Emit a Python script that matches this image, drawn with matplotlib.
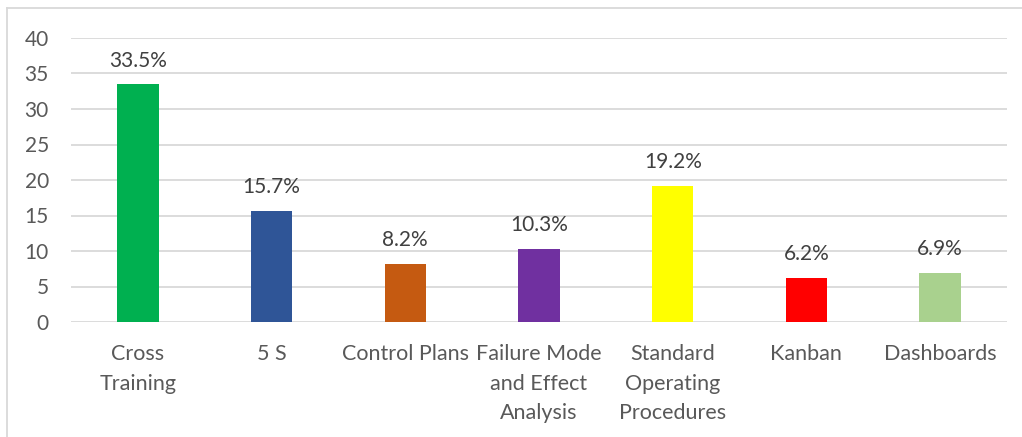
import matplotlib.pyplot as plt
from matplotlib.lines import Line2D


# ==========================
# Data
# ==========================
categories = [
    "Cross\nTraining",
    "5 S",
    "Control Plans",
    "Failure Mode\nand Effect\nAnalysis",
    "Standard\nOperating\nProcedures",
    "Kanban",
    "Dashboards",
]
values = [33.5, 15.7, 8.2, 10.3, 19.2, 6.2, 6.9]
value_labels = ["33.5%", "15.7%", "8.2%", "10.3%", "19.2%", "6.2%", "6.9%"]
bar_colors = ["#00B050", "#2F5597", "#C55A11", "#7030A0", "#FFFF00", "#FF0000", "#A9D18E"]
y_ticks = [0, 5, 10, 15, 20, 25, 30, 35, 40]


# ==========================
# Plot
# ==========================
W, H = 1022, 437
plt.rcParams["font.family"] = ["Lato", "DejaVu Sans"]

fig = plt.figure(figsize=(W / 100, H / 100), dpi=100)
ax = fig.add_axes([71 / W, 1 - 322 / H, (1007 - 71) / W, (322 - 38) / H])

x = range(len(categories))
ax.bar(x, values, width=0.31, color=bar_colors, zorder=3)

for i, (v, lab) in enumerate(zip(values, value_labels)):
    ax.annotate(lab, (i, v), xytext=(0, 17), textcoords="offset points",
                ha="center", va="center", fontsize=15, color="#404040")

ax.set_xlim(-0.5, len(categories) - 0.5)
ax.set_ylim(0, 40)
ax.set_yticks(y_ticks)
ax.set_xticks(list(x))
ax.set_xticklabels(categories, fontsize=15.5, color="#595959", linespacing=1.6)
ax.tick_params(axis="y", labelsize=15, labelcolor="#595959", length=0, pad=16)
ax.tick_params(axis="x", length=0, pad=16)

ax.grid(axis="y", color="#D9D9D9", linewidth=1.3, zorder=0)
for side in ["top", "right", "left", "bottom"]:
    ax.spines[side].set_visible(False)

# chart area border (left and top visible)
fig.add_artist(Line2D([7 / W, 7 / W], [0, 1 - 8 / H], color="#D9D9D9", linewidth=1.3))
fig.add_artist(Line2D([7 / W, 1], [1 - 8 / H, 1 - 8 / H], color="#D9D9D9", linewidth=1.3))

fig.savefig("out.png", dpi=100)
